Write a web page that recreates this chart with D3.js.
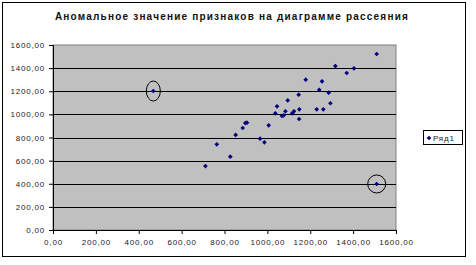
<!DOCTYPE html>
<html>
<head>
<meta charset="utf-8">
<script src="https://cdn.jsdelivr.net/npm/d3@7"></script>
<style>
  body { margin: 0; background: #fff; }
  text { font-family: Arial, "Liberation Sans", sans-serif; }
</style>
</head>
<body>
<div id="chart"></div>
<script>
const title = "Аномальное значение признаков на диаграмме рассеяния";
const seriesName = "Ряд1";
const xTicks = [0, 200, 400, 600, 800, 1000, 1200, 1400, 1600];
const yTicks = [0, 200, 400, 600, 800, 1000, 1200, 1400, 1600];

// main cloud of points
const xs = [1510, 1317, 1370, 1404, 1179, 1255, 1242, 1286, 1146, 1095, 1294, 1045, 1149, 1230, 1261,
            1084, 1124, 1037, 1116, 1068, 1076, 1148, 905, 897, 1006, 885, 852, 966, 986, 764, 827, 711];
const ys = [1522, 1418, 1358, 1398, 1300, 1286, 1213, 1188, 1170, 1121, 1096, 1070, 1044, 1044, 1044,
            1026, 1026, 1009, 1009, 986, 992, 960, 928, 925, 905, 882, 822, 790, 758, 741, 634, 553];
// anomalous points (circled)
const outX = [468, 1510];
const outY = [1202, 398];

const margin = {top: 45, right: 80, bottom: 35, left: 53};
const W = 476, H = 265;
const width = 396 - margin.left;
const height = 230 - margin.top;

const svg = d3.select("#chart").append("svg")
    .attr("width", W).attr("height", H);

// outer chart frame
svg.append("rect")
    .attr("x", 2.5).attr("y", 2.5)
    .attr("width", 463).attr("height", 254)
    .attr("fill", "#fff").attr("stroke", "#000").attr("stroke-width", 1);

svg.append("text")
    .attr("x", 232).attr("y", 20)
    .attr("text-anchor", "middle")
    .attr("font-size", 10).attr("font-weight", "bold")
    .attr("letter-spacing", 1.2)
    .attr("fill", "#111")
    .text(title);

const g = svg.append("g")
    .attr("transform", "translate(" + margin.left + "," + margin.top + ")");

const x = d3.scaleLinear().domain([0, 1600]).range([0, width]);
const y = d3.scaleLinear().domain([0, 1600]).range([height, 0]);

g.append("rect")
    .attr("width", width).attr("height", height)
    .attr("fill", "#c0c0c0").attr("stroke", "#808080");

// gridlines
g.selectAll(".grid").data(yTicks.filter(d => d > 0 && d < 1600)).join("line")
    .attr("x1", 0).attr("x2", width)
    .attr("y1", d => Math.round(y(d)) + 0.5).attr("y2", d => Math.round(y(d)) + 0.5)
    .attr("stroke", "#000");

const fmt = d => d3.format(".2f")(d).replace(".", ",");

const xAxis = g.append("g")
    .attr("transform", "translate(0," + height + ")")
    .call(d3.axisBottom(x).tickValues(xTicks).tickFormat(fmt).tickSize(4).tickPadding(5));
const yAxis = g.append("g")
    .call(d3.axisLeft(y).tickValues(yTicks).tickFormat(fmt).tickSize(4).tickPadding(4));

[xAxis, yAxis].forEach(a => {
    a.select(".domain").attr("stroke", "#000");
    a.selectAll(".tick line").attr("stroke", "#000");
    a.selectAll("text")
        .attr("font-family", "Arial, 'Liberation Sans', sans-serif")
        .attr("font-size", 8).attr("letter-spacing", 0.8).attr("fill", "#222");
});

// square marker turned 45 degrees -> Excel-like diamond
const diamond = d3.symbol().type(d3.symbolSquare).size(11);

g.selectAll(".pt").data(xs.map((v, i) => [v, ys[i]]).concat(outX.map((v, i) => [v, outY[i]])))
    .join("path")
    .attr("d", diamond)
    .attr("transform", d => "translate(" + x(d[0]) + "," + y(d[1]) + ") rotate(45)")
    .attr("fill", "#000080");

g.selectAll(".ring").data(outX.map((v, i) => [v, outY[i]]))
    .join("ellipse")
    .attr("cx", d => x(d[0])).attr("cy", d => y(d[1]))
    .attr("rx", (d, i) => i === 0 ? 7 : 9)
    .attr("ry", (d, i) => i === 0 ? 10 : 9)
    .attr("fill", "none").attr("stroke", "#000").attr("stroke-width", 1);

// legend
const lg = svg.append("g").attr("transform", "translate(423,130)");
lg.append("rect")
    .attr("x", 0.5).attr("y", 0.5).attr("width", 39).attr("height", 14)
    .attr("fill", "#fff").attr("stroke", "#000");
lg.append("path").attr("d", diamond).attr("transform", "translate(6,8) rotate(45)").attr("fill", "#000080");
lg.append("text").attr("x", 10).attr("y", 11)
    .attr("font-size", 8).attr("letter-spacing", 0.8).attr("fill", "#222")
    .text(seriesName);
</script>
</body>
</html>
